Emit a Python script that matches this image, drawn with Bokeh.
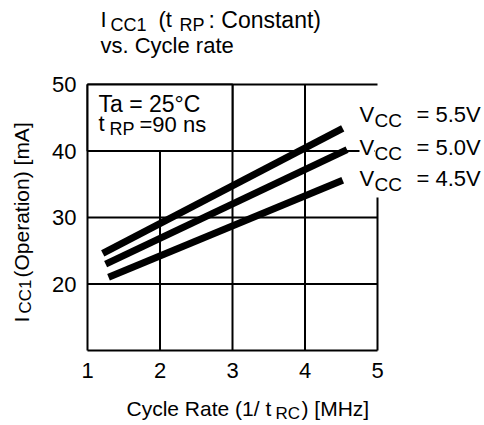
import math
from bokeh.plotting import figure
from bokeh.models import Label, Range1d
from bokeh.core.properties import value
from bokeh.embed import file_html
from bokeh.resources import INLINE

# ---------------- data ----------------
x_ticks = [1, 2, 3, 4, 5]
y_ticks = [20, 30, 40, 50]
y_floor = 10

vcc_labels = ["5.5V", "5.0V", "4.5V"]
rate_55 = [1.21, 4.52]
icc_55 = [24.6, 43.4]
rate_50 = [1.25, 4.58]
icc_50 = [23.0, 40.2]
rate_45 = [1.29, 4.52]
icc_45 = [21.0, 35.6]

FONT = "Liberation Sans"
W, H = 484, 425
# plot box in canvas px: left 87, top 84, right 377, bottom 350
BL, BT, BR, BB = 87, 84, 377, 350
x_lo, x_hi = x_ticks[0], x_ticks[-1]
y_lo, y_hi = y_floor, y_ticks[-1]
xpu = (BR - BL) / (x_hi - x_lo)
ypu = (BB - BT) / (y_hi - y_lo)
xs0 = x_lo - BL / xpu
ys1 = y_hi + BT / ypu

p = figure(width=W, height=H, output_backend="svg", toolbar_location=None,
           x_range=Range1d(xs0, xs0 + W / xpu),
           y_range=Range1d(ys1 - H / ypu, ys1),
           x_axis_location=None, y_axis_location=None,
           min_border=0)
p.outline_line_color = None
p.xgrid.grid_line_color = None
p.ygrid.grid_line_color = None
p.background_fill_color = "white"
p.border_fill_color = "white"

# grid lines and frame
gx0, gy0, gx1, gy1 = [], [], [], []
for t in x_ticks[1:-1]:
    gx0.append(t); gx1.append(t); gy0.append(y_lo); gy1.append(y_hi)
for t in y_ticks[:-1]:
    gx0.append(x_lo); gx1.append(x_hi); gy0.append(t); gy1.append(t)
gx0 += [x_lo, x_lo, x_lo, x_hi]
gx1 += [x_lo, x_hi, x_hi, x_hi]
gy0 += [y_lo, y_hi, y_lo, y_lo]
gy1 += [y_hi, y_hi, y_lo, 33.0]
p.segment(gx0, gy0, gx1, gy1, line_color="black", line_width=2)

# condition box
p.quad(left=[x_lo], right=[x_ticks[2]], bottom=[y_ticks[2]], top=[y_hi],
       fill_color="white", line_color="black", line_width=2)

# data lines
for xs, ys in ((rate_55, icc_55), (rate_50, icc_50), (rate_45, icc_45)):
    p.line(xs, ys, line_color="black", line_width=7, line_cap="butt")

# tick labels
p.text(x=x_ticks, y=[y_lo] * len(x_ticks), text=[str(t) for t in x_ticks],
       text_align="center", text_baseline="top", y_offset=12,
       text_font=value(FONT), text_font_size="22px", text_color="black")
p.text(x=[x_lo] * len(y_ticks), y=y_ticks, text=[str(t) for t in y_ticks],
       text_align="right", text_baseline="middle", x_offset=-11,
       text_font=value(FONT), text_font_size="22px", text_color="black")

# ---------------- texts ----------------
SHIFT = 7  # compensation of the label baseline offset


def put(text, px, py, size, angle=0.0, bg=None):
    if angle:
        px -= SHIFT
    else:
        py -= SHIFT
    lab = Label(x=px, y=H - py, x_units="screen", y_units="screen",
                text=text, text_font=FONT, text_font_size=f"{size}px",
                text_color="black", text_align="left",
                text_baseline="alphabetic", angle=angle)
    if bg is not None:
        lab.background_fill_color = bg
    p.add_layout(lab)


# title
put("I", 100, 26, 22)
put("CC1", 110, 31, 18)
put("(t", 158, 26, 22)
put("RP", 179, 31, 18)
put(": Constant)", 208, 26, 23)
put("vs. Cycle rate", 100, 52, 22)

# conditions
put("Ta = 25°C", 98, 110, 23)
put("t", 98, 130, 22)
put("RP", 109, 135, 18)
put("=90 ns", 139, 131, 22)

# series labels
for lab, yb in zip(vcc_labels, (121, 154, 185)):
    put("V", 359, yb, 22, bg="white")
    put("CC", 374, yb + 6, 19, bg="white")
    put("= " + lab, 416, yb, 22, bg="white")

# x axis title
put("Cycle Rate (1/ t", 126, 415, 21)
put("RC", 275, 420, 17)
put(") [MHz]", 301, 415, 21)

# y axis title (rotated)
r = math.pi / 2
put("I", 28, 322, 21, angle=r)
put("CC1", 32, 313, 17, angle=r)
put("(Operation) [mA]", 28, 277, 21, angle=r)

open("out.html", "w").write(file_html(p, INLINE))
